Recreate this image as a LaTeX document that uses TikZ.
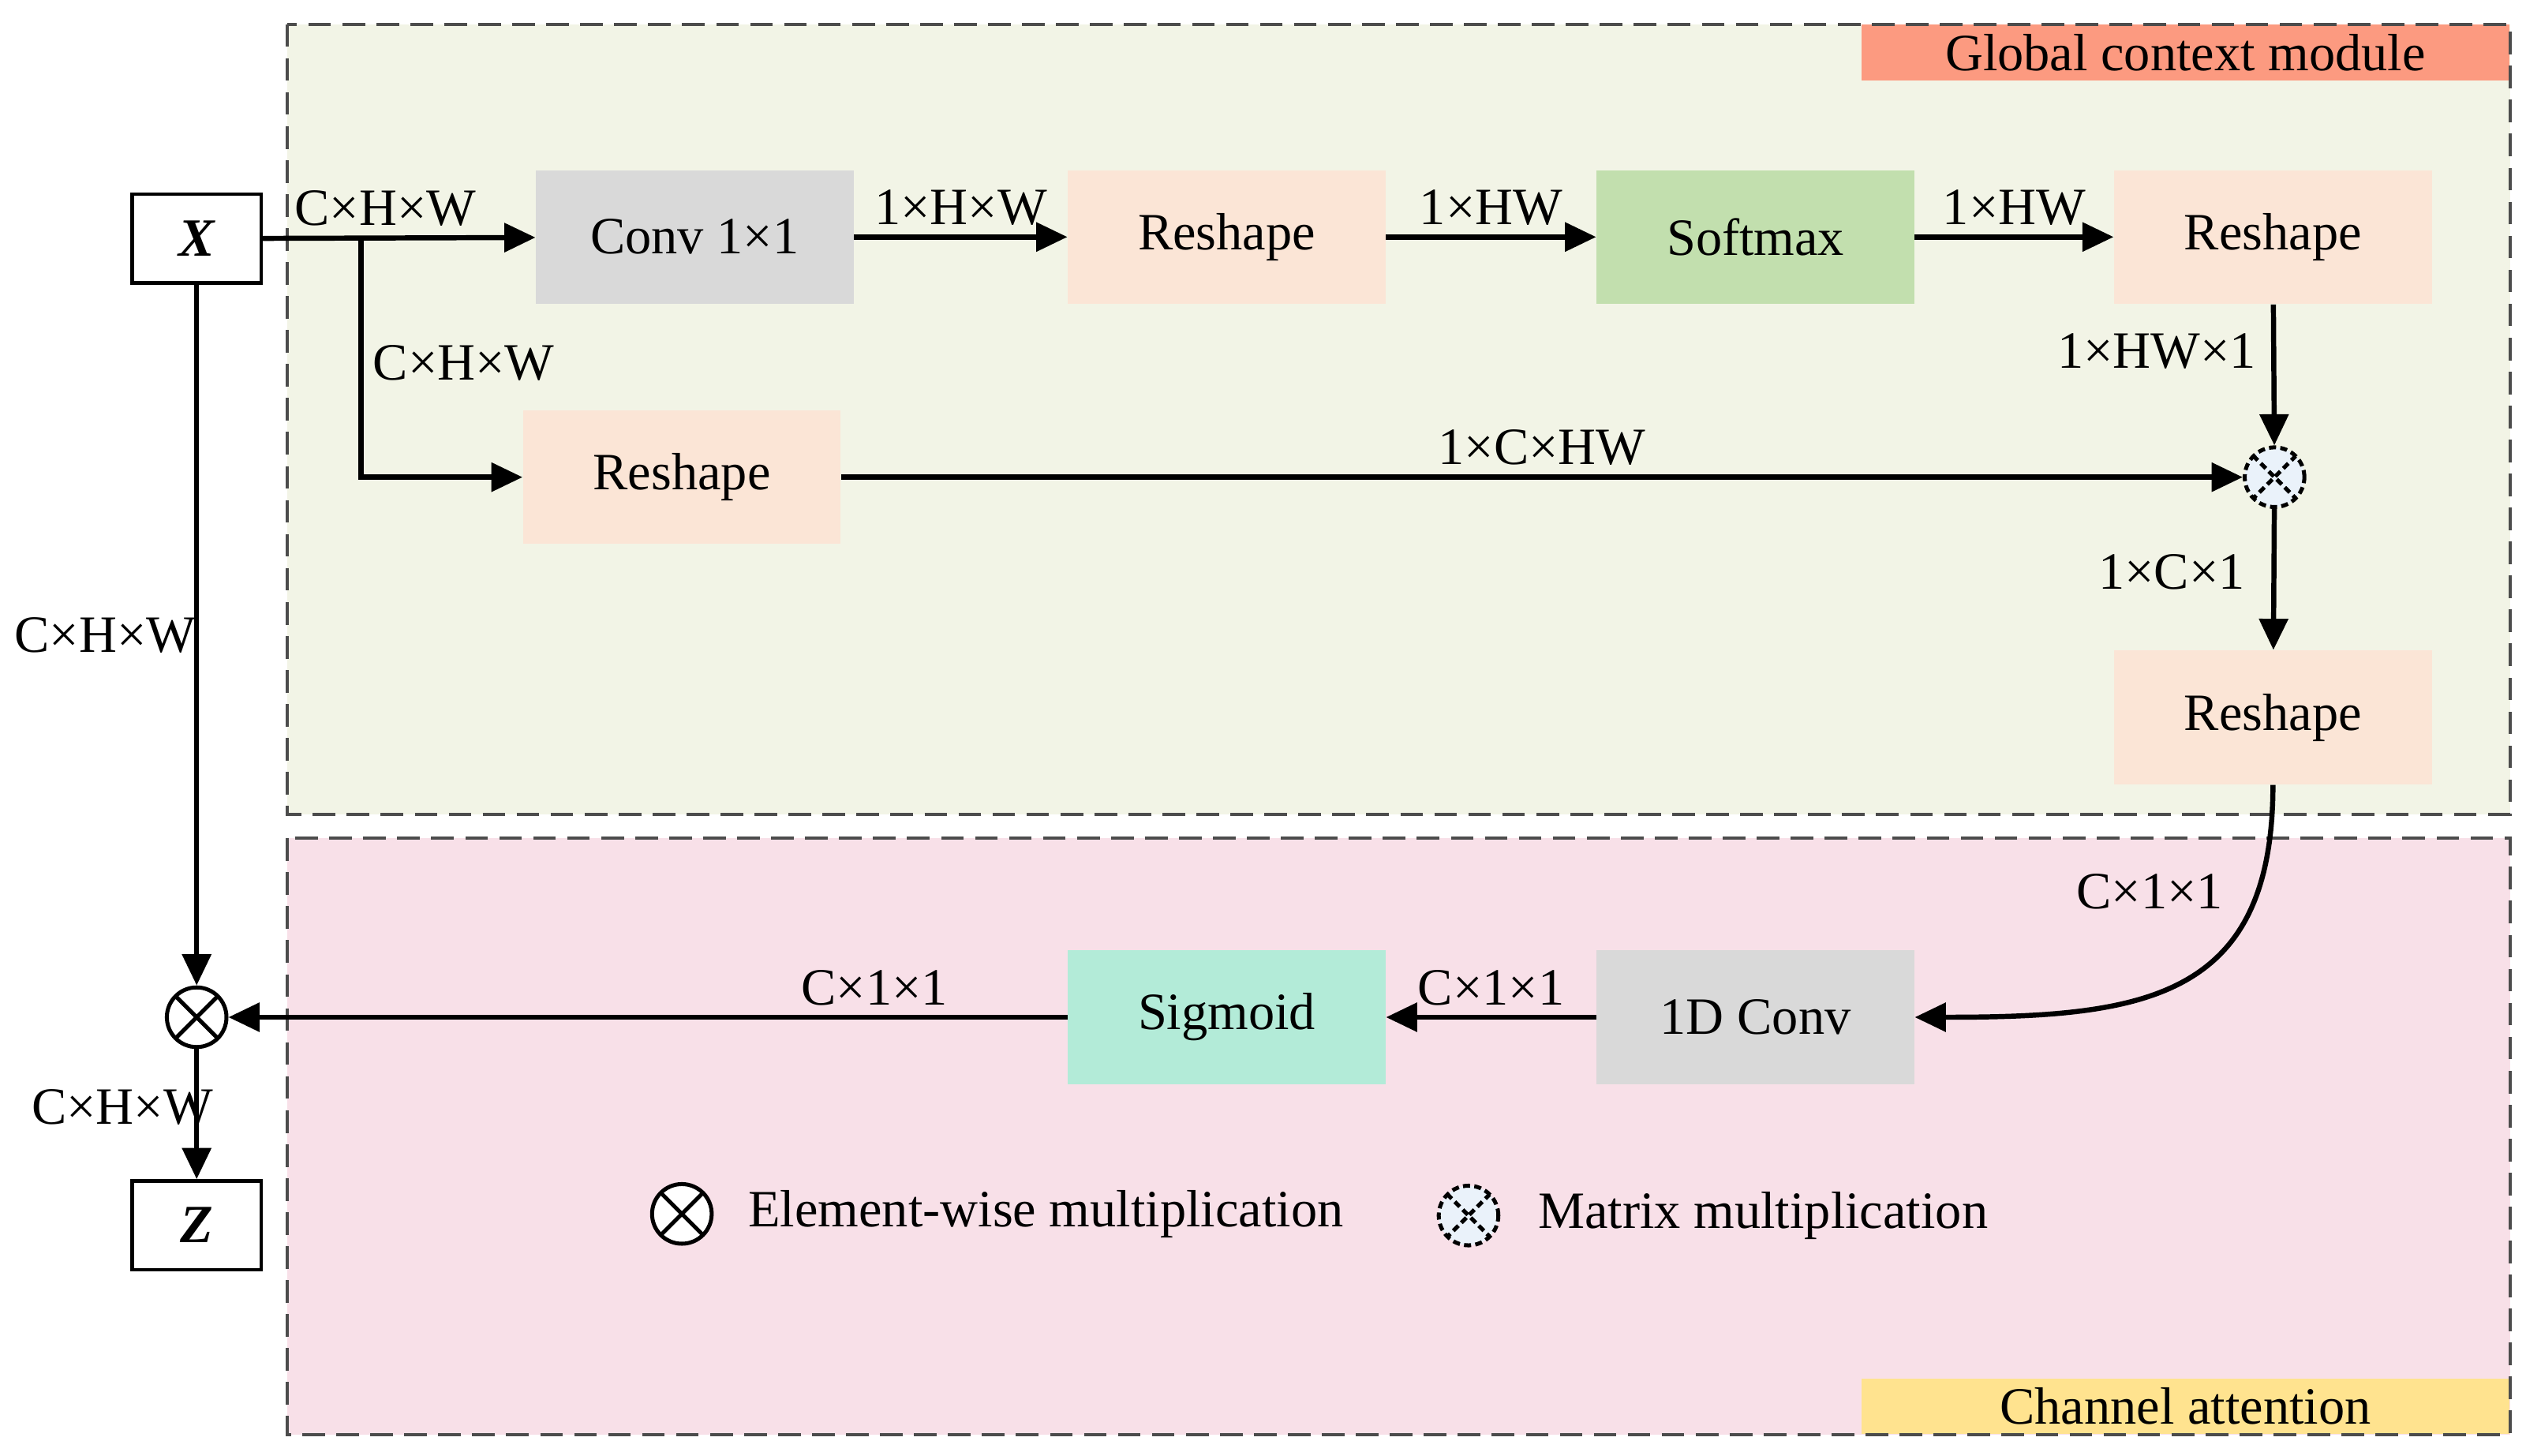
\documentclass[tikz,border=0pt]{standalone}
\usepackage{fontspec}
\setmainfont{Liberation Serif}
\usetikzlibrary{arrows.meta}
\definecolor{gcmbg}{HTML}{F2F4E6}
\definecolor{cabg}{HTML}{F8E0E8}
\definecolor{gcmtag}{HTML}{FC9A80}
\definecolor{catag}{HTML}{FFE38F}
\definecolor{convgray}{HTML}{D9D9D9}
\definecolor{reshapefill}{HTML}{FBE5D6}
\definecolor{softgreen}{HTML}{C2DFAE}
\definecolor{sigmint}{HTML}{B3EBD8}
\definecolor{matblue}{HTML}{EAF2FA}
\begin{document}
\begin{tikzpicture}[
        x=0.02cm, y=-0.02cm,
        font=\fontsize{18.5}{22}\selectfont,
        box/.style={rectangle, minimum width=3.94cm, minimum height=1.66cm, inner sep=0pt},
        io/.style={rectangle, draw, line width=1.2pt, fill=white, minimum width=1.6cm, minimum height=1.1cm, font=\fontsize{19}{22}\selectfont\bfseries\itshape},
        region/.style={draw=black!70, dash pattern=on 8pt off 4pt, line width=1.1pt},
        emul/.style={circle, draw, line width=1.4pt, minimum size=0.74cm, inner sep=0pt, fill=white, path picture={\draw[line width=1.4pt] (path picture bounding box.north west) -- (path picture bounding box.south east) (path picture bounding box.north east) -- (path picture bounding box.south west);}},
        mmul/.style={emul, dash pattern=on 2.5pt off 1.5pt, fill=matblue},
        arrow/.style={-{Triangle[length=11pt, width=10pt]}, line width=1.8pt}
    ]
        \useasboundingbox (0,0) rectangle (1567,903);
        % Regions
        \fill[gcmbg] (178,15) rectangle (1557,505);
        \fill[cabg] (178,520) rectangle (1557,890);
        \node[rectangle, fill=gcmtag, minimum width=8.04cm, minimum height=0.64cm, anchor=north east] (gcmtag) at (1557,15) {Global context module};
        \node[rectangle, fill=catag, minimum width=8.04cm, minimum height=0.64cm, anchor=south east] (catag) at (1557,890) {Channel attention};
        \draw[region] (178,15) rectangle (1557,505);
        \draw[region] (178,520) rectangle (1557,890);

        % Nodes
        \node[io] (x) at (122,148) {X};
        \node[io] (z) at (122,760) {Z};
        \node[box, fill=convgray] (conv) at (431,147) {Conv 1×1};
        \node[box, fill=reshapefill] (reshapeA) at (761,147) {Reshape};
        \node[box, fill=softgreen] (softmax) at (1089,147) {Softmax};
        \node[box, fill=reshapefill] (reshapeB) at (1410,147) {Reshape};
        \node[box, fill=reshapefill] (reshapeC) at (423,296) {Reshape};
        \node[mmul] (matmul) at (1411,296) {};
        \node[box, fill=reshapefill] (reshapeD) at (1410,445) {Reshape};
        \node[box, fill=convgray] (conv1d) at (1089,631) {1D Conv};
        \node[box, fill=sigmint] (sigmoid) at (761,631) {Sigmoid};
        \node[emul] (elmul) at (122,631) {};
        \coordinate (split) at (224,148);

        % Legend
        \node[emul] (legE) at (423,753) {};
        \node[anchor=west] (legEtext) at (458,753) {Element-wise multiplication};
        \node[mmul] (legM) at (911,754) {};
        \node[anchor=west] (legMtext) at (948,754) {Matrix multiplication};

        % Arrows
        \draw[arrow] (x) -- (conv) node[pos=0.45, above=0pt] {C×H×W};
        \draw[arrow] (split) |- (reshapeC) node[pos=0.26, right=0pt] {C×H×W};
        \draw[arrow] (conv) -- (reshapeA) node[midway, above=0pt] {1×H×W};
        \draw[arrow] (reshapeA) -- (softmax) node[midway, above=0pt] {1×HW};
        \draw[arrow] (softmax) -- (reshapeB) node[midway, above=0pt] {1×HW};
        \draw[arrow] (reshapeB) -- (matmul) node[pos=0.33, left=2pt] {1×HW×1};
        \draw[arrow] (reshapeC) -- (matmul) node[midway, above=0pt] {1×C×HW};
        \draw[arrow] (matmul) -- (reshapeD) node[pos=0.45, left=6pt] {1×C×1};
        \draw[arrow] (reshapeD.south) .. controls (1410,620) and (1330,631) .. (conv1d.east) node[pos=0.2, left=8pt] {C×1×1};
        \draw[arrow] (conv1d) -- (sigmoid) node[midway, above=0pt] {C×1×1};
        \draw[arrow] (sigmoid) -- (elmul) node[pos=0.23, above=0pt] {C×1×1};
        \draw[arrow] (x) -- (elmul) node[midway, left=-4pt] {C×H×W};
        \draw[arrow] (elmul) -- (z) node[pos=0.45, left=-10pt] {C×H×W};
    \end{tikzpicture}
\end{document}
